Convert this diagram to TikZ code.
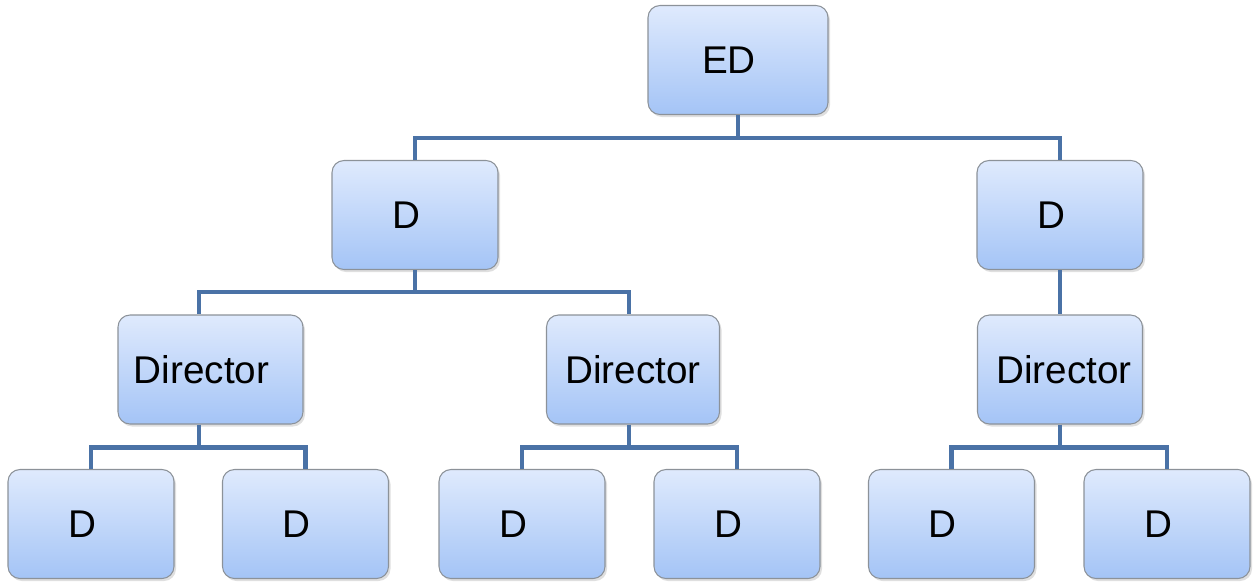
\documentclass[tikz,border=0pt]{standalone}
\usepackage{fontspec}
\setmainfont{Liberation Sans}
\usetikzlibrary{shadows}
\definecolor{boxtop}{HTML}{DFEAFD}
\definecolor{boxbot}{HTML}{A4C4F6}
\definecolor{boxline}{HTML}{8C9299}
\definecolor{linkblue}{HTML}{4A72A6}

\begin{document}
\begin{tikzpicture}[
    box/.style={draw=boxline, line width=0.6pt, rounded corners=0.24cm,
        top color=boxtop, bottom color=boxbot,
        drop shadow={opacity=0.25, shadow xshift=0.04cm, shadow yshift=-0.05cm},
        minimum height=2.18cm, font=\fontsize{22}{26}\selectfont,
        execute at begin node={\hspace*{#1}}},
    box/.default=-0.36cm,
    link/.style={draw=linkblue, line width=2.8pt}]
    \useasboundingbox (0,0) rectangle (25.12,-11.62);
    % top
    \node[box, minimum width=3.6cm] (ed) at (14.76,-1.2) {ED};
    % second level
    \node[box, minimum width=3.32cm] (dl) at (8.3,-4.3) {D};
    \node[box, minimum width=3.32cm] (dr) at (21.2,-4.3) {D};
    % directors
    \node[box, minimum width=3.7cm] (dir1) at (4.21,-7.39) {Director};
    \node[box=0cm, minimum width=3.46cm] (dir2) at (12.66,-7.39) {Director};
    \node[box=0.16cm, minimum width=3.3cm] (dir3) at (21.2,-7.39) {Director};
    % bottom row
    \node[box, minimum width=3.32cm] (b1) at (1.82,-10.48) {D};
    \node[box, minimum width=3.32cm] (b2) at (6.11,-10.48) {D};
    \node[box, minimum width=3.32cm] (b3) at (10.44,-10.48) {D};
    \node[box, minimum width=3.32cm] (b4) at (14.74,-10.48) {D};
    \node[box, minimum width=3.32cm] (b5) at (19.03,-10.48) {D};
    \node[box, minimum width=3.32cm] (b6) at (23.34,-10.48) {D};
    % links
    \draw[link] (ed.south) -- ++(0,-0.46) -| (dl.north);
    \draw[link] (ed.south) -- ++(0,-0.46) -| (dr.north);
    \draw[link] (dl.south) -- ++(0,-0.44) -| ([xshift=-0.23cm]dir1.north);
    \draw[link] (dl.south) -- ++(0,-0.44) -| ([xshift=-0.08cm]dir2.north);
    \draw[link] (dr.south) -- (dir3.north);
    \draw[link] ([xshift=-0.23cm]dir1.south) -- ++(0,-0.46) -| (b1.north);
    \draw[link] ([xshift=-0.23cm]dir1.south) -- ++(0,-0.46) -| (b2.north);
    \draw[link] ([xshift=-0.08cm]dir2.south) -- ++(0,-0.46) -| (b3.north);
    \draw[link] ([xshift=-0.08cm]dir2.south) -- ++(0,-0.46) -| (b4.north);
    \draw[link] (dir3.south) -- ++(0,-0.46) -| (b5.north);
    \draw[link] (dir3.south) -- ++(0,-0.46) -| (b6.north);
\end{tikzpicture}
\end{document}
